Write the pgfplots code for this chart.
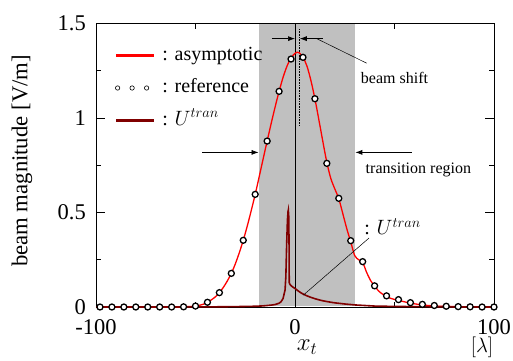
\documentclass[border=0pt]{standalone}
\usepackage{fontspec}
\setmainfont{Liberation Serif}
\usepackage{pgfplots}
\pgfplotsset{compat=1.18}
\usetikzlibrary{arrows.meta}
\definecolor{maroonline}{RGB}{128,0,0}
\definecolor{regiongray}{RGB}{192,192,192}
\begin{document}
\begin{tikzpicture}
\path[use as bounding box] (-96pt,-53pt) rectangle (417pt,307pt);
\begin{axis}[
  at={(0pt,0pt)}, anchor=south west,
  scale only axis, width=398pt, height=283.5pt,
  xmin=-100, xmax=100, ymin=0, ymax=1.5,
  xtick={-100,0,100}, xticklabels={-100,0,100}, minor xtick={-50,50},
  ytick={0,0.5,1,1.5}, yticklabels={0,0.5,1,1.5}, minor ytick={0.25,0.75,1.25},
  tick align=inside, major tick length=9pt, minor tick length=5pt,
  axis line style={line width=0.8pt},
  every tick/.style={black, line width=0.6pt},
  tick label style={font=\fontsize{22.5}{27}\selectfont, inner sep=0pt},
  /pgf/number format/assume math mode=true,
  xticklabel style={yshift=-12pt},
  yticklabel style={xshift=-10pt},
  legend style={draw=none, fill=none, at={(axis cs:-92,1.39)}, anchor=north west,
    font=\fontsize{20}{24}\selectfont,
    nodes={text height=14pt, text depth=4pt, inner sep=0pt},
    row sep=14.5pt, /tikz/every odd column/.append style={column sep=8pt}},
  legend cell align=left,
]
% transition region
\addplot[fill=regiongray, draw=none, forget plot] coordinates {(-18,0.003) (30,0.003) (30,1.497) (-18,1.497)} -- cycle;
% x = 0 line and shifted beam centre
\addplot[black, line width=0.7pt, forget plot] coordinates {(0,0) (0,1.5)};
\addplot[black, densely dotted, line width=0.6pt, forget plot] coordinates {(2.2,0.96) (2.2,1.47)};
% asymptotic
\addplot[red, line width=1.3pt, smooth,
  legend image code/.code={\fill[red] (0pt,-0.7pt) rectangle (37pt,0.7pt);}] coordinates {
(-100,0) (-70,0) (-60,0.0005) (-56,0.001) (-54,0.002) (-52,0.003) (-50,0.005) (-48,0.009)
(-46,0.015) (-44,0.025) (-42,0.038) (-40,0.054) (-38,0.076) (-36,0.104) (-34,0.138)
(-32,0.178) (-30,0.228) (-28,0.287) (-26,0.353) (-24,0.428) (-22,0.51) (-20,0.596)
(-18,0.689) (-16,0.784) (-14,0.878) (-12,0.97) (-10,1.058) (-8,1.141) (-6,1.215)
(-4,1.275) (-2,1.318) (0,1.342) (1,1.348) (2,1.346) (4,1.322) (6,1.275) (8,1.198)
(10,1.102) (12,0.99) (14,0.875) (16,0.765) (18,0.68) (20,0.625) (22,0.573) (24,0.495)
(26,0.415) (28,0.345) (30,0.272) (32,0.250) (34,0.236) (36,0.183) (38,0.14) (40,0.111)
(42,0.085) (44,0.068) (46,0.056) (48,0.046) (50,0.040) (52,0.035) (54,0.030) (56,0.025)
(58,0.021) (60,0.017) (64,0.011) (68,0.007) (72,0.004) (80,0.002) (90,0.001) (100,0)};
\addlegendentry{: asymptotic}
% reference
\addplot[only marks, mark=*, mark size=3pt, mark options={fill=white, draw=black, line width=1.3pt},
  legend image code/.code={\draw[black, line width=0.6pt] (1pt,0pt) circle (2.2pt) (15.5pt,0pt) circle (2.2pt) (30pt,0pt) circle (2.2pt);}] coordinates {
(-98,0) (-92,0) (-86,0) (-80,0) (-74,0) (-68,0) (-62,0) (-56,0.001) (-50,0.005)
(-44,0.025) (-38,0.076) (-32,0.178) (-26,0.353) (-20,0.596) (-14,0.878) (-8,1.141)
(-2,1.312) (4,1.321) (10,1.102) (16,0.760) (22,0.575) (28,0.351) (34,0.240) (40,0.112)
(46,0.059) (52,0.039) (58,0.023) (64,0.014) (70,0.008) (76,0.004) (82,0.002) (88,0.001)
(94,0) (100,0)};
\addlegendentry{: reference}
% U tran
\addplot[maroonline, line width=1.6pt,
  legend image code/.code={\fill[maroonline] (0pt,-0.9pt) rectangle (37pt,0.9pt);}] coordinates {
(-100,0) (-60,0.0005) (-40,0.001) (-30,0.002) (-20,0.004) (-16,0.006) (-12,0.010)
(-10,0.013) (-8,0.020) (-7,0.028) (-6,0.045) (-5,0.09) (-4.6,0.16) (-4.2,0.33) (-3.8,0.46)
(-3.5,0.505) (-3.35,0.513) (-3.15,0.48) (-3.0,0.35) (-2.9,0.13) (-2.7,0.122) (-2,0.113)
(-1,0.105) (0,0.098) (1,0.090) (2,0.082) (3,0.075) (4,0.069) (6,0.059) (8,0.051)
(10,0.044) (12,0.038) (14,0.033) (17,0.027) (20,0.022) (25,0.016) (30,0.011) (35,0.008)
(40,0.005) (50,0.003) (60,0.002) (80,0.001) (100,0.0005)};
\addlegendentry{: $U^{tran}$}
% annotations
\draw[-{Latex[length=7pt,width=5pt]}, line width=0.7pt] (axis cs:-11.6,1.42) -- (axis cs:0,1.42);
\draw[-{Latex[length=7pt,width=5pt]}, line width=0.7pt] (axis cs:14,1.42) -- (axis cs:2.4,1.42);
\draw[line width=0.5pt] (axis cs:10.9,1.42) -- (axis cs:36,1.29);
\node[font=\fontsize{16}{19}\selectfont] at (axis cs:50,1.21) {beam shift};
\draw[-{Latex[length=7pt,width=5pt]}, line width=0.7pt] (axis cs:-46.6,0.818) -- (axis cs:-18.3,0.818);
\draw[-{Latex[length=7pt,width=5pt]}, line width=0.7pt] (axis cs:58.6,0.818) -- (axis cs:30.3,0.818);
\node[font=\fontsize{16}{19}\selectfont] at (axis cs:62,0.725) {transition region};
\draw[line width=0.5pt] (axis cs:4.2,0.063) -- (axis cs:37.2,0.365);
\node[font=\fontsize{20}{24}\selectfont] at (axis cs:49,0.425) {: $U^{tran}$};
\end{axis}
\node[rotate=90, font=\fontsize{22.7}{27}\selectfont] at (-74pt,146pt) {beam magnitude [V/m]};
\node[inner sep=0pt, font=\fontsize{24}{29}\selectfont] at (211pt,-40pt) {$x_t$};
\node[inner sep=0pt, font=\fontsize{22}{27}\selectfont] at (386pt,-40pt) {$[\lambda]$};
\end{tikzpicture}
\end{document}
